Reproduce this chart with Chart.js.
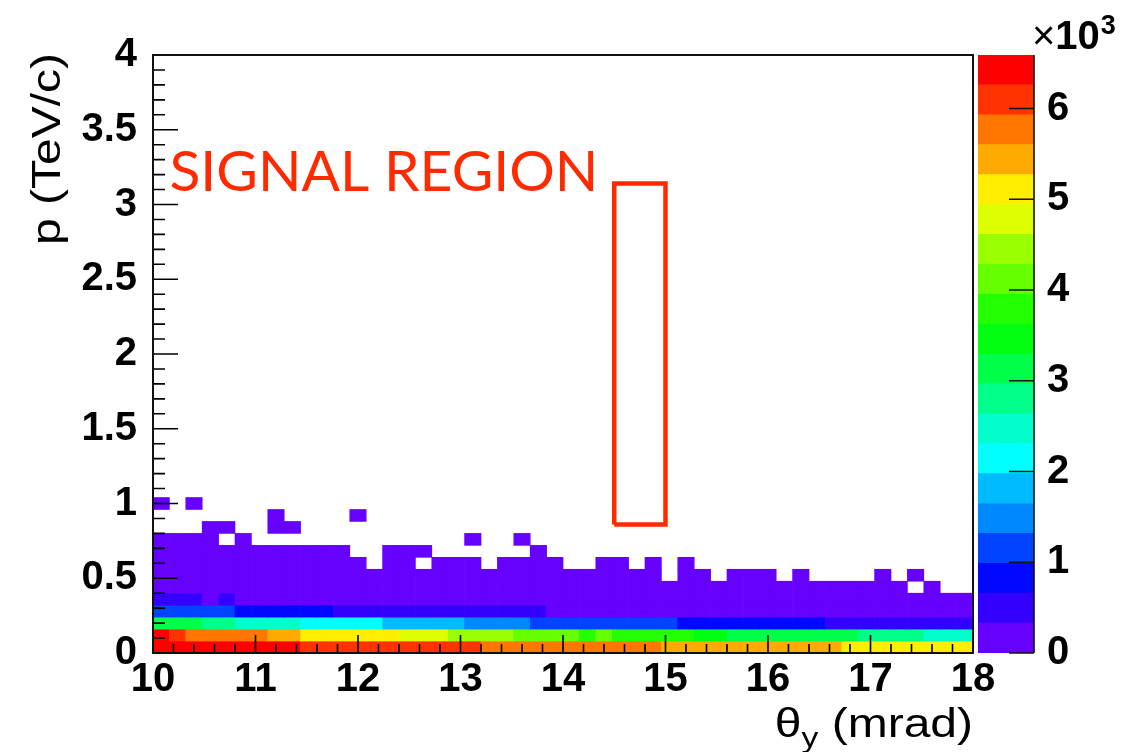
<!DOCTYPE html>
<html>
<head>
<meta charset="utf-8">
<script src="https://cdn.jsdelivr.net/npm/chart.js@4.4.1/dist/chart.umd.min.js"></script>
<style>
  html, body { margin: 0; padding: 0; background: #fff; }
  #wrap { position: relative; width: 1135px; height: 752px; overflow: hidden; }
  #main { position: absolute; left: 0; top: 0; }
  #pal { position: absolute; left: 940px; top: 0; }
</style>
</head>
<body>
<div id="wrap">
  <canvas id="main" width="1135" height="752"></canvas>
  <canvas id="pal" width="195" height="752"></canvas>
</div>
<script>
// histogram binning: theta_y 10..18 mrad, p 0..4 TeV/c, 50 x 50 bins
const xRange = [10, 18];
const yRange = [0, 4];
const nBinsX = 50;
const nBinsY = 50;
const zMax = 6590;

// bin contents, one array per p row (row0 = 0-0.08 TeV/c), 50 theta bins each
const row0 = [6590,6560,6520,6490,6450,6420,6380,6340,6300,6230, 6200,6170,6140,6110,6080,6060,6030,6000,5980,5950,
              5910,5880,5850,5820,5790,5760,5730,5700,5680,5650, 5620,5580,5550,5520,5490,5460,5430,5400,5370,5340,
              5310,5280,5250,5220,5190,5160,5130,5100,5070,5040];
const row1 = [6350,6050,5900,5850,5800,5740,5680,5520,5400,5250, 5200,5150,5100,5040,4980,4900,4820,4740,4590,4520,
              4450,4380,4260,4190,4120,4050,3930,3980,3920,3870, 3810,3750,3680,3600,3530,3280,3240,3200,3160,3120,
              3080,3040,3000,2940,2870,2800,2730,2610,2540,2470];
const row2 = [3250,3180,3100,2900,2780,2600,2530,2450,2380,2280, 2230,2170,2100,2030,1950,1890,1830,1760,1700,1620,
              1550,1480,1400,1300,1270,1240,1200,1160,1120,1080, 1040,1000,970,940,910,880,850,810,770,730,
              690,650,620,590,560,530,500,470,440,410];
const row3 = [1280,1230,1180,1120,1050,970,920,870,820,760, 700,650,630,610,590,570,550,520,500,470,
              440,410,380,350,320,315,310,300,295,290, 280,275,270,260,255,250,240,235,230,220,
              215,210,200,195,190,180,175,170,160,155];
const row4 = [420,380,350,310,340,300,295,290,285,280, 270,260,255,250,240,230,225,220,210,205,
              200,190,185,180,175,170,165,160,155,150, 145,140,135,130,125,120,118,115,112,110,
              105,100,98,95,92,90,88,85,82,80];
const row5 = [110,108,105,104,102,100,98,96,95,93, 92,90,88,86,85,83,82,80,78,77,
              75,74,72,70,69,68,66,65,64,62, 60,58,57,56,55,54,52,51,50,48,
              47,46,45,44,42,41,0,40,0,0];
const row6 = [60,58,57,56,55,54,52,51,50,49, 48,47,46,45,44,43,42,41,40,39,
              38,37,36,35,34,33,32,31,30,29, 28,0,27,26,0,25,24,23,0,22,
              0,0,0,0,20,0,18,0,0,0];
const row7 = [35,34,33,32,31,30,29,28,27,26, 25,24,23,0,22,21,0,20,19,18,
              0,17,16,15,14,0,0,13,12,0, 12,0,11,0,0,0,0,0,0,0,
              0,0,0,0,0,0,0,0,0,0];
const row8 = [22,21,20,19,18,17,16,15,14,13, 12,11,0,0,10,10,9,0,0,0,
              0,0,0,8,0,0,0,0,0,0, 0,0,0,0,0,0,0,0,0,0,
              0,0,0,0,0,0,0,0,0,0];
const row9 = [12,11,10,9,0,8,0,0,0,0, 0,0,0,0,0,0,0,0,0,5,
              0,0,4,0,0,0,0,0,0,0, 0,0,0,0,0,0,0,0,0,0,
              0,0,0,0,0,0,0,0,0,0];
const row10 = [0,0,0,6,5,0,0,4,4,0, 0,0,0,0,0,0,0,0,0,0,
               0,0,0,0,0,0,0,0,0,0, 0,0,0,0,0,0,0,0,0,0,
               0,0,0,0,0,0,0,0,0,0];
const row11 = [0,0,0,0,0,0,0,3,0,0, 0,0,3,0,0,0,0,0,0,0,
               0,0,0,0,0,0,0,0,0,0, 0,0,0,0,0,0,0,0,0,0,
               0,0,0,0,0,0,0,0,0,0];
const row12 = [4,0,3,0,0,0,0,0,0,0, 0,0,0,0,0,0,0,0,0,0,
               0,0,0,0,0,0,0,0,0,0, 0,0,0,0,0,0,0,0,0,0,
               0,0,0,0,0,0,0,0,0,0];

// signal region box and label (axis units)
const boxX = [14.5, 15.0, 15.0, 14.5, 14.5];
const boxY = [0.86, 0.86, 3.14, 3.14, 0.86];
const signalText = 'SIGNAL REGION';
const signalAt = [10.16, 3.09];

// 20 colour levels, low -> high
const palette = ['#6600ff','#3300ff','#0008ff','#0044ff','#0088ff','#00bbff','#00ffff','#00ffcc','#00ff88','#00ff48',
                 '#00ff10','#22ff00','#66ff00','#99ff00','#ddff00','#ffee00','#ffaa00','#ff7700','#ff3300','#ff0000'];

const zTicks = [0, 1000, 2000, 3000, 4000, 5000, 6000];

const FONT = "'Liberation Sans', Arial, Helvetica, sans-serif";
const RED = '#ff2a00';

const rows = [row0,row1,row2,row3,row4,row5,row6,row7,row8,row9,row10,row11,row12];
const dx = (xRange[1] - xRange[0]) / nBinsX;
const dy = (yRange[1] - yRange[0]) / nBinsY;
const cells = [];
rows.forEach((vals, r) => {
    vals.forEach((v, c) => {
        if (v > 0) {
            cells.push({ x: xRange[0] + dx * (c + 0.5), y: [yRange[0] + dy * r, yRange[0] + dy * (r + 1)], v: v });
        }
    });
});

function colourOf(v) {
    const k = Math.floor(v / zMax * palette.length);
    return palette[Math.min(k, palette.length - 1)];
}

function stretched(ctx, str, x, y, sx) {
    ctx.save();
    ctx.translate(x, y);
    ctx.scale(sx, 1);
    ctx.fillText(str, 0, 0);
    ctx.restore();
}

// ROOT style frame, inward ticks, titles and the label
const rootLook = {
    id: 'rootLook',
    afterDatasetsDraw(chart) {
        const { ctx, chartArea: a, scales: { x, y } } = chart;
        ctx.save();
        ctx.strokeStyle = '#000';
        ctx.lineWidth = 1.6;
        ctx.beginPath();
        for (let i = 0; i <= 40; i++) {
            const py = y.getPixelForValue(yRange[0] + i * 0.1);
            ctx.moveTo(a.left, py);
            ctx.lineTo(a.left + (i % 5 === 0 ? 25 : 12), py);
        }
        for (let i = 0; i <= 40; i++) {
            const px = x.getPixelForValue(xRange[0] + i * 0.2);
            ctx.moveTo(px, a.bottom);
            ctx.lineTo(px, a.bottom - (i % 5 === 0 ? 18 : 9));
        }
        ctx.stroke();
        ctx.strokeStyle = '#111';
        ctx.lineWidth = 2;
        ctx.strokeRect(a.left, a.top, a.width, a.height);

        ctx.fillStyle = RED;
        ctx.font = '57px Lato, sans-serif';
        ctx.textBaseline = 'alphabetic';
        ctx.fillText(signalText, x.getPixelForValue(signalAt[0]), y.getPixelForValue(signalAt[1]));
        ctx.restore();
    },
    afterDraw(chart) {
        const { ctx, chartArea: a, scales: { x, y } } = chart;
        ctx.save();
        ctx.fillStyle = '#000';
        ctx.textBaseline = 'alphabetic';
        const sx = 1.2;
        // x title: theta_y (mrad), right aligned
        ctx.font = '40px ' + FONT;
        const w1 = ctx.measureText('\u03b8').width * sx;
        const w3 = ctx.measureText(' (mrad)').width * sx;
        ctx.font = '28px ' + FONT;
        const w2 = ctx.measureText('y').width * sx;
        let px = a.right - (w1 + w2 + w3);
        const base = x.bottom - 15;
        ctx.font = '40px ' + FONT;
        stretched(ctx, '\u03b8', px, base, sx);
        ctx.font = '28px ' + FONT;
        stretched(ctx, 'y', px + w1, base + 10, sx);
        ctx.font = '40px ' + FONT;
        stretched(ctx, ' (mrad)', px + w1 + w2, base, sx);
        // y title, rotated, top aligned
        ctx.translate(y.left + 60, a.top - 2);
        ctx.rotate(-Math.PI / 2);
        ctx.scale(sx, 1);
        ctx.textAlign = 'right';
        ctx.fillText('p (TeV/c)', 0, 0);
        ctx.restore();
    }
};

const tickFont = { family: FONT, size: 40, weight: 'bold' };

new Chart('main', {
    type: 'bar',
    data: {
        datasets: [
            {
                type: 'line',
                data: boxX.map((v, i) => ({ x: v, y: boxY[i] })),
                borderColor: RED,
                borderWidth: 4.5,
                borderJoinStyle: 'miter',
                pointRadius: 0,
                fill: false,
                tension: 0,
                order: 0
            },
            {
                type: 'bar',
                data: cells,
                backgroundColor: ctx => colourOf(ctx.raw.v),
                borderWidth: 0,
                barPercentage: 1,
                categoryPercentage: 1,
                order: 1
            }
        ]
    },
    options: {
        responsive: false,
        animation: false,
        events: [],
        layout: { padding: { left: 0, top: 55, right: 162, bottom: 0 } },
        plugins: { legend: { display: false }, tooltip: { enabled: false } },
        scales: {
            x: {
                type: 'linear',
                offset: false,
                min: xRange[0],
                max: xRange[1],
                afterFit: s => { s.height = 99; },
                grid: { display: false, offset: false },
                border: { display: false },
                ticks: { stepSize: 1, font: tickFont, color: '#000', padding: -5, maxRotation: 0, includeBounds: false,
                         callback: v => String(v) }
            },
            y: {
                type: 'linear',
                min: yRange[0],
                max: yRange[1],
                afterFit: s => { s.width = 153; },
                grid: { display: false },
                border: { display: false },
                ticks: { stepSize: 0.5, font: tickFont, color: '#000', padding: 8, includeBounds: false,
                         callback: v => String(v) }
            }
        }
    },
    plugins: [rootLook]
});

// colour scale
const palLook = {
    id: 'palLook',
    afterDatasetsDraw(chart) {
        const { ctx, chartArea: a, scales: { y } } = chart;
        ctx.save();
        ctx.strokeStyle = '#111';
        ctx.lineWidth = 1.6;
        ctx.beginPath();
        ctx.moveTo(a.right, a.top);
        ctx.lineTo(a.right, a.bottom);
        zTicks.forEach(v => {
            const py = y.getPixelForValue(v);
            ctx.moveTo(a.right, py);
            ctx.lineTo(a.right - 25, py);
        });
        ctx.stroke();
        ctx.restore();
    },
    afterDraw(chart) {
        const { ctx, chartArea: a } = chart;
        ctx.save();
        ctx.fillStyle = '#000';
        ctx.textBaseline = 'alphabetic';
        ctx.font = '40px ' + FONT;
        const base = a.top - 6;
        let px = a.right - 2;
        ctx.fillText('\u00d7', px, base);
        px += ctx.measureText('\u00d7').width;
        ctx.font = 'bold 40px ' + FONT;
        ctx.fillText('10', px, base);
        px += ctx.measureText('10').width + 1;
        ctx.font = 'bold 27px ' + FONT;
        ctx.fillText('3', px, base - 15);
        ctx.restore();
    }
};

new Chart('pal', {
    type: 'bar',
    data: {
        labels: [''],
        datasets: palette.map(c => ({
            data: [zMax / palette.length],
            backgroundColor: c,
            borderWidth: 0,
            barPercentage: 1,
            categoryPercentage: 1,
            stack: 'z'
        }))
    },
    options: {
        responsive: false,
        animation: false,
        events: [],
        layout: { padding: { left: 38, top: 55, right: 0, bottom: 99 } },
        plugins: { legend: { display: false }, tooltip: { enabled: false } },
        scales: {
            x: { display: false, stacked: true },
            y: {
                stacked: true,
                position: 'right',
                min: 0,
                max: zMax,
                afterFit: s => { s.width = 101; },
                afterBuildTicks: s => { s.ticks = zTicks.map(v => ({ value: v })); },
                grid: { display: false },
                border: { display: false },
                ticks: { font: tickFont, color: '#000', padding: 5, autoSkip: false,
                         callback: v => String(v / 1000) }
            }
        }
    },
    plugins: [palLook]
});
</script>
</body>
</html>
